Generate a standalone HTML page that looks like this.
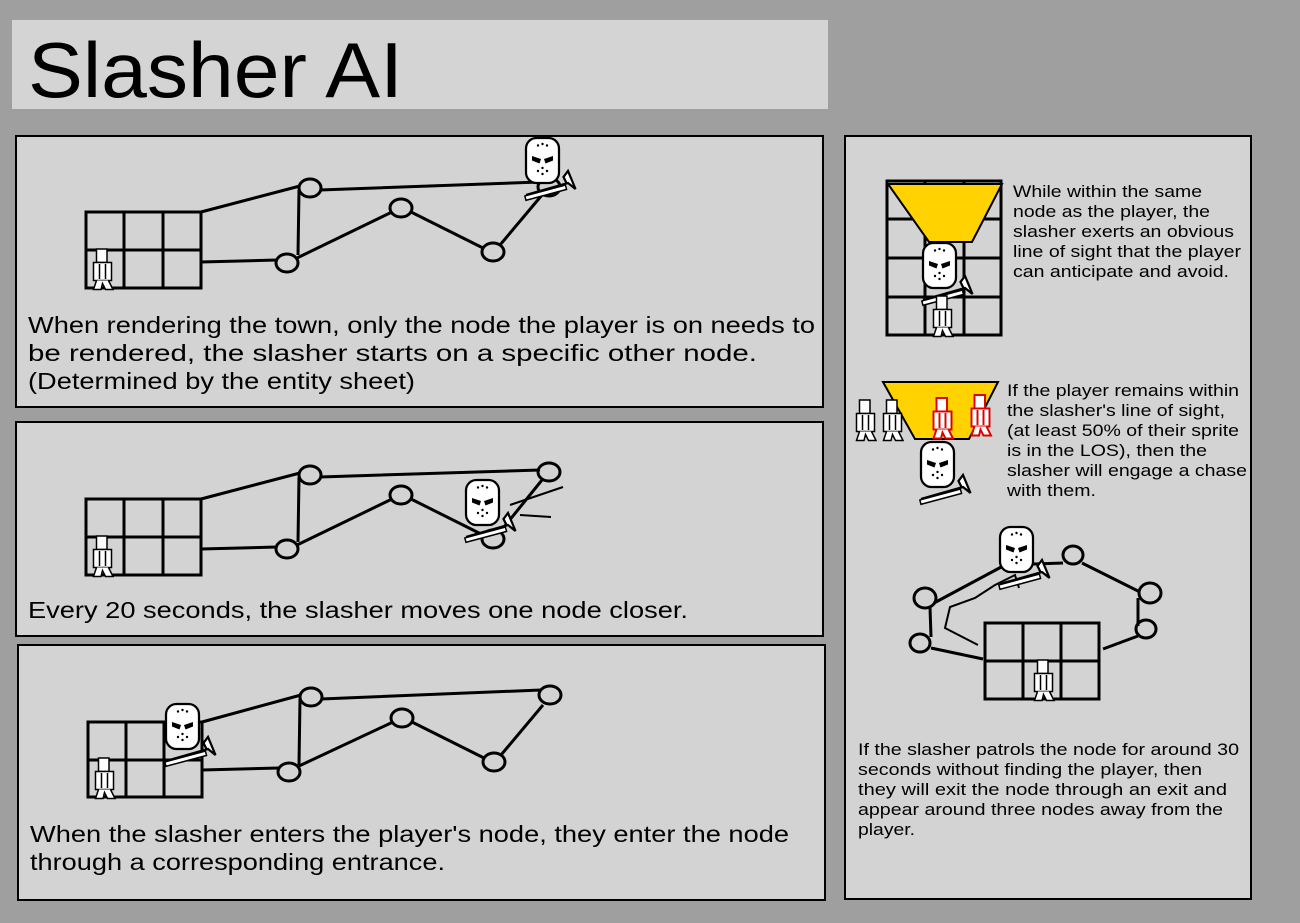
<!DOCTYPE html>
<html><head><meta charset="utf-8"><style>
body{margin:0;background:#9f9f9f;width:1300px;height:918px;overflow:hidden;font-family:"Liberation Sans",sans-serif}
</style></head><body>
<svg width="1300" height="918" xmlns="http://www.w3.org/2000/svg" font-family="Liberation Sans, sans-serif">
<defs>
<g id="mask">
 <rect x="2" y="0" width="22" height="30" rx="7" fill="#fff" stroke="#000" stroke-width="1.5"/>
 <path d="M6 12 L12 14 L11 17 L6 15Z M20 12 L14 14 L15 17 L20 15Z" fill="#000"/>
 <circle cx="10" cy="5" r="0.8"/><circle cx="13" cy="4" r="0.8"/><circle cx="16" cy="5" r="0.8"/>
 <circle cx="10" cy="22" r="0.8"/><circle cx="13" cy="24" r="0.8"/><circle cx="16" cy="22" r="0.8"/><circle cx="13" cy="20" r="0.8"/>
 <path d="M2 38 L30 30 L35 34 L30 22 L27 26 L29 30" fill="#fff" stroke="#000" stroke-width="1.5"/>
 <rect x="1" y="35" width="28" height="3" fill="#fff" stroke="#000" stroke-width="1" transform="rotate(-15 15 36)"/>
</g>
<g id="pl">
 <rect x="3" y="0" width="7" height="9" fill="#fff" stroke="#000" stroke-width="1"/>
 <rect x="1" y="9" width="12" height="12" fill="#fff" stroke="#000" stroke-width="1"/>
 <path d="M5 10V20M9 10V20" stroke="#000" stroke-width="1"/>
 <path d="M3 21L1 27H6L7 23L9 27H14L11 21" fill="#fff" stroke="#000" stroke-width="1"/>
</g>
<g id="plr">
 <rect x="3" y="0" width="7" height="9" fill="#fff" stroke="#d00" stroke-width="1.3"/>
 <rect x="1" y="9" width="12" height="12" fill="#fff" stroke="#d00" stroke-width="1.3"/>
 <path d="M5 10V20M9 10V20" stroke="#d00" stroke-width="1.3"/>
 <path d="M3 21L1 27H6L7 23L9 27H14L11 21" fill="#fff" stroke="#d00" stroke-width="1.3"/>
</g>
</defs>

<rect x="12" y="20" width="816" height="89" fill="#d4d4d4"/>
<text x="28" y="97" font-size="78" textLength="375" lengthAdjust="spacingAndGlyphs">Slasher AI</text>

<g fill="#d3d3d3" stroke="#000" stroke-width="2">
<rect x="16" y="136" width="807" height="271"/>
<rect x="16" y="422" width="807" height="214"/>
<rect x="18" y="645" width="807" height="255"/>
<rect x="845" y="136" width="406" height="763"/>
</g>

<g fill="none" stroke="#000" stroke-width="3">
<path d="M86 212H201V288H86Z M86 250H201 M124 212V288 M163 212V288"/>
<path d="M201 212L300 186 M320 190L540 182 M299 190L298 255 M201 262L277 260 M297 258L392 212 M411 212L483 248 M500 245L542 195"/>
<ellipse cx="310" cy="188" rx="11" ry="9"/><ellipse cx="401" cy="208" rx="11" ry="9"/><ellipse cx="287" cy="263" rx="11" ry="9"/><ellipse cx="493" cy="252" rx="11" ry="9"/><ellipse cx="549" cy="187" rx="11" ry="9"/>
<path d="M86 499H201V575H86Z M86 537H201 M124 499V575 M163 499V575"/>
<path d="M201 499L300 473 M320 477L540 470 M299 477L298 542 M201 549L277 547 M297 545L392 499 M411 499L483 535 M500 532L542 480"/>
<ellipse cx="310" cy="475" rx="11" ry="9"/><ellipse cx="401" cy="495" rx="11" ry="9"/><ellipse cx="287" cy="549" rx="11" ry="9"/><ellipse cx="493" cy="539" rx="11" ry="9"/><ellipse cx="549" cy="472" rx="11" ry="9"/>
<path d="M510 505L563 487 M520 515L551 517" stroke-width="2"/>
<path d="M88 722H202V797H88Z M88 760H202 M126 722V797 M164 722V797"/>
<path d="M202 722L301 695 M321 699L541 690 M300 699L299 765 M202 770L279 768 M299 766L393 722 M412 722L484 758 M501 755L543 705"/>
<ellipse cx="311" cy="697" rx="11" ry="9"/><ellipse cx="402" cy="718" rx="11" ry="9"/><ellipse cx="289" cy="772" rx="11" ry="9"/><ellipse cx="494" cy="762" rx="11" ry="9"/><ellipse cx="550" cy="695" rx="11" ry="9"/>
</g>
<use href="#pl" transform="translate(92 249) scale(1.5)"/>
<use href="#mask" transform="translate(523 138) scale(1.5)"/>
<use href="#pl" transform="translate(92 536) scale(1.5)"/>
<use href="#mask" transform="translate(463 480) scale(1.5)"/>
<use href="#pl" transform="translate(94 758) scale(1.5)"/>
<use href="#mask" transform="translate(163 704) scale(1.5)"/>

<g font-size="23" lengthAdjust="spacingAndGlyphs">
<text x="28" y="333" textLength="787" lengthAdjust="spacingAndGlyphs">When rendering the town, only the node the player is on needs to</text>
<text x="28" y="361" textLength="729" lengthAdjust="spacingAndGlyphs">be rendered, the slasher starts on a specific other node.</text>
<text x="28" y="389" textLength="387" lengthAdjust="spacingAndGlyphs">(Determined by the entity sheet)</text>
<text x="28" y="618" textLength="660" lengthAdjust="spacingAndGlyphs">Every 20 seconds, the slasher moves one node closer.</text>
<text x="30" y="842" textLength="759" lengthAdjust="spacingAndGlyphs">When the slasher enters the player's node, they enter the node</text>
<text x="30" y="870" textLength="415" lengthAdjust="spacingAndGlyphs">through a corresponding entrance.</text>
</g>

<path d="M887 181H1001V335H887Z M887 219H1001 M887 258H1001 M887 297H1001 M925 181V335 M964 181V335" fill="none" stroke="#000" stroke-width="3"/>
<path d="M888 184L1002 184L972 242L929 242Z" fill="#ffd200" stroke="#000" stroke-width="2"/>
<use href="#mask" transform="translate(920 243) scale(1.5)"/>
<use href="#pl" transform="translate(932 296) scale(1.5)"/>
<path d="M883 382L998 382L969 439L915 439Z" fill="#ffd200" stroke="#000" stroke-width="2"/>
<use href="#pl" transform="translate(855 400) scale(1.5)"/><use href="#pl" transform="translate(882 400) scale(1.5)"/>
<use href="#plr" transform="translate(932 398) scale(1.5)"/><use href="#plr" transform="translate(970 395) scale(1.5)"/>
<use href="#mask" transform="translate(918 442) scale(1.5)"/>

<g fill="none" stroke="#000" stroke-width="3">
<path d="M985 623H1099V699H985Z M985 661H1099 M1023 623V699 M1061 623V699"/>
<path d="M1005 565L1063 563 M1082 563L1140 592 M1138 598L1138 626 M1138 636L1103 649 M1005 565L934 603 M930 607L931 637 M931 648L983 659"/>
<ellipse cx="1073" cy="555" rx="10" ry="9"/><ellipse cx="1150" cy="593" rx="11" ry="10"/><ellipse cx="1146" cy="629" rx="10" ry="9"/><ellipse cx="925" cy="598" rx="11" ry="10"/><ellipse cx="920" cy="643" rx="10" ry="9"/>
<path d="M1019 588L1015 575L1005 580L995 585L975 598L950 607L945 628L978 645" stroke-width="2"/>
</g>
<use href="#mask" transform="translate(997 527) scale(1.5)"/>
<use href="#pl" transform="translate(1033 660) scale(1.5)"/>

<g font-size="17">
<text x="1013" y="197" textLength="189" lengthAdjust="spacingAndGlyphs">While within the same</text>
<text x="1013" y="217" textLength="197" lengthAdjust="spacingAndGlyphs">node as the player, the</text>
<text x="1013" y="237" textLength="221" lengthAdjust="spacingAndGlyphs">slasher exerts an obvious</text>
<text x="1013" y="257" textLength="228" lengthAdjust="spacingAndGlyphs">line of sight that the player</text>
<text x="1013" y="277" textLength="216" lengthAdjust="spacingAndGlyphs">can anticipate and avoid.</text>
<text x="1007" y="396" textLength="232" lengthAdjust="spacingAndGlyphs">If the player remains within</text>
<text x="1007" y="416" textLength="218" lengthAdjust="spacingAndGlyphs">the slasher's line of sight,</text>
<text x="1007" y="436" textLength="232" lengthAdjust="spacingAndGlyphs">(at least 50% of their sprite</text>
<text x="1007" y="456" textLength="200" lengthAdjust="spacingAndGlyphs">is in the LOS), then the</text>
<text x="1007" y="476" textLength="240" lengthAdjust="spacingAndGlyphs">slasher will engage a chase</text>
<text x="1007" y="496" textLength="89" lengthAdjust="spacingAndGlyphs">with them.</text>
<text x="858" y="755" textLength="381" lengthAdjust="spacingAndGlyphs">If the slasher patrols the node for around 30</text>
<text x="858" y="775" textLength="344" lengthAdjust="spacingAndGlyphs">seconds without finding the player, then</text>
<text x="858" y="795" textLength="369" lengthAdjust="spacingAndGlyphs">they will exit the node through an exit and</text>
<text x="858" y="815" textLength="365" lengthAdjust="spacingAndGlyphs">appear around three nodes away from the</text>
<text x="858" y="835" textLength="57" lengthAdjust="spacingAndGlyphs">player.</text>
</g>
</svg>
</body></html>
